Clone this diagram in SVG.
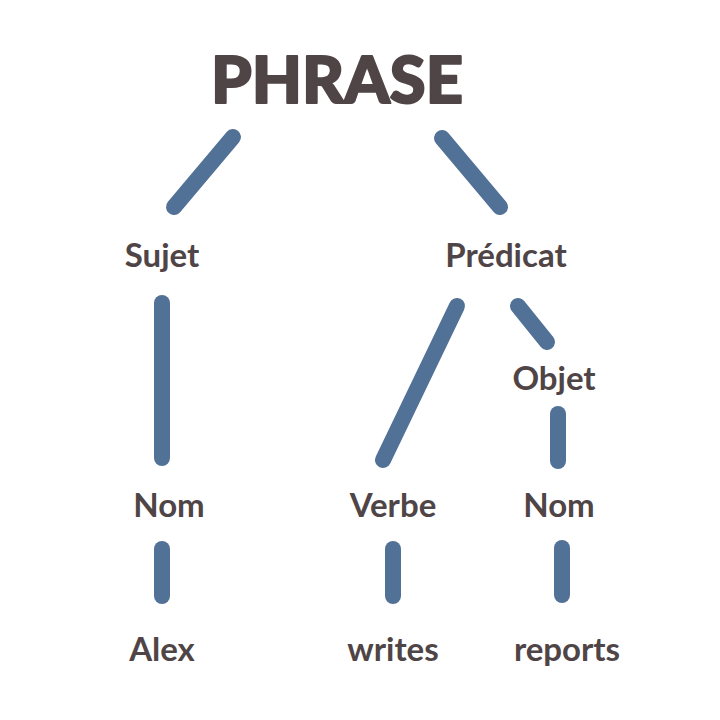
<svg xmlns="http://www.w3.org/2000/svg" width="720" height="720" viewBox="0 0 720 720">
<style>
.t{font-family:Lato,"Noto Sans","Liberation Sans",sans-serif;font-weight:700;fill:#4f4446;text-anchor:middle;font-size:33px}
.title{font-weight:900;font-size:65px;stroke:#4f4446;stroke-width:2;stroke-linejoin:round}
.c line{stroke:#527196;stroke-width:16;stroke-linecap:round}
</style>
<rect width="720" height="720" fill="#fff"/>
<g class="c" id="connectors">
<line x1="233" y1="137" x2="174" y2="207"/>
<line x1="442" y1="138" x2="500" y2="207"/>
<line x1="162" y1="303" x2="162" y2="458"/>
<line x1="457" y1="306" x2="383" y2="460"/>
<line x1="518" y1="306" x2="547" y2="342"/>
<line x1="558" y1="414" x2="558" y2="461"/>
<line x1="162" y1="549" x2="162" y2="596"/>
<line x1="393" y1="549" x2="393" y2="596"/>
<line x1="562" y1="548" x2="562" y2="595"/>
</g>
<g id="phrase"><text class="t title" x="337" y="103">PHRASE</text></g>
<g id="sujet"><text class="t" x="162" y="267">Sujet</text></g>
<g id="predicat"><text class="t" x="506" y="267">Prédicat</text></g>
<g id="objet"><text class="t" x="554" y="390">Objet</text></g>
<g id="nom1"><text class="t" x="169" y="517">Nom</text></g>
<g id="verbe"><text class="t" x="393" y="517">Verbe</text></g>
<g id="nom2"><text class="t" x="559" y="517">Nom</text></g>
<g id="alex"><text class="t" x="162" y="661">Alex</text></g>
<g id="writes"><text class="t" x="393" y="661">writes</text></g>
<g id="reports"><text class="t" x="567" y="661">reports</text></g>
</svg>
